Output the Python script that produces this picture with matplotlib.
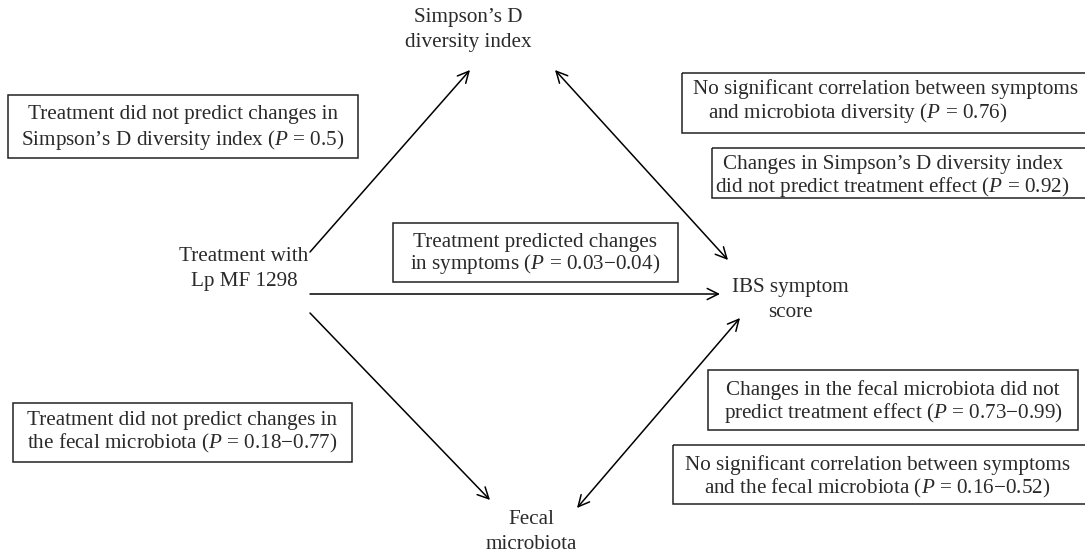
import matplotlib
matplotlib.use("Agg")
import matplotlib.pyplot as plt
from matplotlib.patches import Rectangle

plt.rcParams['font.family'] = ['Liberation Serif', 'DejaVu Serif']
plt.rcParams['mathtext.fontset'] = 'custom'
plt.rcParams['mathtext.rm'] = 'Liberation Serif'
plt.rcParams['mathtext.it'] = 'Liberation Serif:italic'

# node labels
nodes = ["Simpson\u2019s D\ndiversity index",
         "Treatment with\nLp MF 1298",
         "IBS symptom\nscore",
         "Fecal\nmicrobiota"]
node_xy = [(468, 30), (244, 269), (790, 300), (531, 532)]

# boxed annotations, one list of lines each
box_lines = [
    ["Treatment did not predict changes in",
     "Simpson\u2019s D diversity index ($P$ = 0.5)"],
    ["No significant correlation between symptoms",
     "and microbiota diversity ($P$ = 0.76)"],
    ["Changes in Simpson\u2019s D diversity index",
     "did not predict treatment effect ($P$ = 0.92)"],
    ["Treatment predicted changes",
     "in symptoms ($P$ = 0.03\u22120.04)"],
    ["Changes in the fecal microbiota did not",
     "predict treatment effect ($P$ = 0.73\u22120.99)"],
    ["No significant correlation between symptoms",
     "and the fecal microbiota ($P$ = 0.16\u22120.52)"],
    ["Treatment did not predict changes in",
     "the fecal microbiota ($P$ = 0.18\u22120.77)"],
]
# box rectangles (x0, y0, x1, y1) and line anchors (x, y, ha)
box_rects = [(8, 95, 358, 158), (682, 73, 1100, 133), (712, 148, 1100, 198),
             (393, 223, 678, 282), (708, 370, 1078, 430), (673, 445, 1100, 504),
             (13, 403, 352, 462)]
box_text = [[(183, 115, 'center'), (183, 140, 'center')],
            [(693, 89, 'left'), (708, 113, 'left')],
            [(723, 164, 'left'), (715, 187, 'left')],
            [(535, 242, 'center'), (535, 264, 'center')],
            [(893, 390, 'center'), (893, 413, 'center')],
            [(685, 465, 'left'), (704, 488, 'left')],
            [(182, 421, 'center'), (182, 443, 'center')]]

# arrows: (start, end, style)
arrows = [((310, 252), (470, 70), '->'),
          ((310, 294), (720, 294), '->'),
          ((310, 313), (490, 500), '->'),
          ((555, 70), (728, 260), '<->'),
          ((577, 508), (740, 318), '<->')]

fig = plt.figure(figsize=(10.85, 5.52), dpi=100)
ax = fig.add_axes([0, 0, 1, 1])
ax.set_xlim(0, 1085)
ax.set_ylim(552, 0)
ax.axis('off')

fs = 15.2
tc = '#2a2a2a'

for label, (x, y) in zip(nodes, node_xy):
    ax.text(x, y, label, ha='center', va='center', fontsize=fs, color=tc,
            linespacing=1.4)

for lines, (x0, y0, x1, y1), anchors in zip(box_lines, box_rects, box_text):
    ax.add_patch(Rectangle((x0, y0), x1 - x0, y1 - y0, fill=False,
                           edgecolor='#222222', linewidth=1.1))
    for line, (x, y, ha) in zip(lines, anchors):
        ax.text(x, y, line, ha=ha, va='center', fontsize=fs, color=tc)

for (x0, y0), (x1, y1), style in arrows:
    ax.annotate('', xy=(x1, y1), xytext=(x0, y0),
                arrowprops=dict(arrowstyle=style + ',head_length=0.8,head_width=0.4',
                                color='black', lw=1.1,
                                shrinkA=0, shrinkB=0))

fig.savefig('out.png', dpi=100)
